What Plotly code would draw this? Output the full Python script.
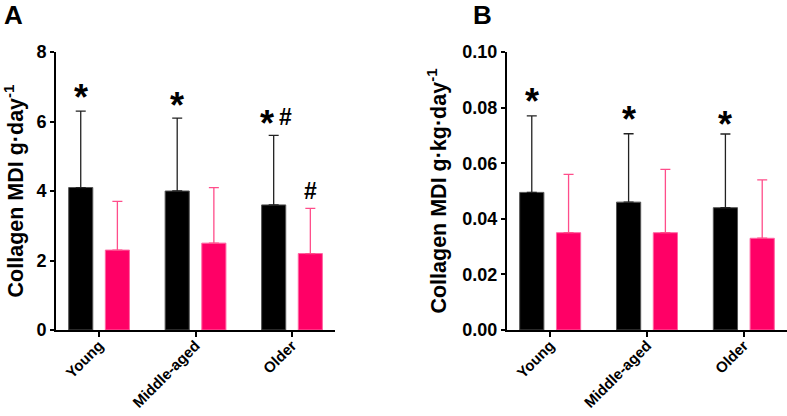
import plotly.graph_objects as go

categories = ["Young", "Middle-aged", "Older"]

# Panel A: Collagen MDI g·day^-1
a_black = [4.1, 4.0, 3.6]
a_black_top = [6.3, 6.1, 5.6]
a_pink = [2.3, 2.5, 2.2]
a_pink_top = [3.7, 4.1, 3.5]

# Panel B: Collagen MDI g·kg·day^-1
b_black = [0.0495, 0.046, 0.044]
b_black_top = [0.077, 0.0706, 0.0705]
b_pink = [0.035, 0.035, 0.033]
b_pink_top = [0.056, 0.0578, 0.054]

# significance markers
a_mark_text = ["*", "*", "*", "#", "#"]
a_mark_cat = [0, 1, 2, 2, 2]
a_mark_group = ["black", "black", "black", "black", "pink"]
a_mark_y = [6.88, 6.65, 6.13, 6.13, 4.0]
b_mark_text = ["*", "*", "*"]
b_mark_cat = [0, 1, 2]
b_mark_group = ["black", "black", "black"]
b_mark_y = [0.0846, 0.0782, 0.0764]

BLACK = "#000000"
PINK = "#FF0066"
FONT = "Arial, Liberation Sans, sans-serif"

BAR_W = 0.25
OFF_BLACK = -0.315
OFF_PINK = 0.065
CENTER = {"black": OFF_BLACK + BAR_W / 2, "pink": OFF_PINK + BAR_W / 2}

fig = go.Figure()


def add_pair(black, black_top, pink, pink_top, xa, ya):
    fig.add_trace(go.Bar(
        x=categories, y=black, xaxis=xa, yaxis=ya,
        width=BAR_W, offset=OFF_BLACK,
        marker=dict(color=BLACK, line=dict(color="#555555", width=1)),
        error_y=dict(type="data", symmetric=False,
                     array=[t - v for t, v in zip(black_top, black)],
                     arrayminus=[0] * len(black),
                     color="#222222", thickness=1.3, width=5),
        showlegend=False))
    fig.add_trace(go.Bar(
        x=categories, y=pink, xaxis=xa, yaxis=ya,
        width=BAR_W, offset=OFF_PINK,
        marker=dict(color=PINK, line=dict(color="#ff66a3", width=1)),
        error_y=dict(type="data", symmetric=False,
                     array=[t - v for t, v in zip(pink_top, pink)],
                     arrayminus=[0] * len(pink),
                     color="#ff4d8a", thickness=1.3, width=5),
        showlegend=False))


add_pair(a_black, a_black_top, a_pink, a_pink_top, "x", "y")
add_pair(b_black, b_black_top, b_pink, b_pink_top, "x2", "y2")

annotations = []


def add_marks(texts, cats, groups, ys, xref, yref):
    for t, c, g, yv in zip(texts, cats, groups, ys):
        key = (c, g)
        pair = sum(1 for cc, gg in zip(cats, groups) if (cc, gg) == key) > 1
        if t == "*":
            size, ysh = 36, -7
            xsh = -7 if pair else 0
        else:
            size, ysh = 23, 0
            xsh = 12 if pair else 0
        annotations.append(dict(x=c + CENTER[g], y=yv, xref=xref, yref=yref,
                                text="<b>%s</b>" % t, showarrow=False,
                                yanchor="middle", xanchor="center",
                                xshift=xsh, yshift=ysh,
                                font=dict(size=size, color="black", family=FONT)))


add_marks(a_mark_text, a_mark_cat, a_mark_group, a_mark_y, "x", "y")
add_marks(b_mark_text, b_mark_cat, b_mark_group, b_mark_y, "x2", "y2")

annotations.append(dict(x=0.003, y=1.0, xref="paper", yref="paper", text="<b>A</b>",
                        showarrow=False, xanchor="left", yanchor="top", yshift=2,
                        font=dict(size=26, color="black", family=FONT)))
annotations.append(dict(x=0.598, y=1.0, xref="paper", yref="paper", text="<b>B</b>",
                        showarrow=False, xanchor="left", yanchor="top", yshift=2,
                        font=dict(size=26, color="black", family=FONT)))

xcommon = dict(type="category", range=[-0.446, 2.446], showline=True, linecolor="black",
               linewidth=2, ticks="outside", ticklen=5, tickwidth=2, tickcolor="black",
               tickangle=-45, showgrid=False, zeroline=False, automargin=False,
               ticklabelstandoff=-6,
               tickfont=dict(size=15, color="black", family=FONT))
ycommon = dict(showline=True, linecolor="black", linewidth=2, ticks="outside",
               ticklen=4, tickwidth=2, tickcolor="black", showgrid=False, zeroline=False,
               automargin=False,
               tickfont=dict(size=18, color="black", family=FONT))

fig.update_layout(
    width=787, height=416,
    margin=dict(l=0, r=0, t=0, b=0),
    paper_bgcolor="white", plot_bgcolor="white",
    font=dict(family=FONT, color="black"),
    xaxis=dict(domain=[0.0712, 0.4257], anchor="y",
               tickvals=categories, ticktext=["<b>%s</b>" % c for c in categories],
               **xcommon),
    xaxis2=dict(domain=[0.6442, 1.0], anchor="y2",
                tickvals=categories, ticktext=["<b>%s</b>" % c for c in categories],
                **xcommon),
    yaxis=dict(domain=[0.2067, 0.875], anchor="x", range=[0, 8],
               tickvals=[0, 2, 4, 6, 8], ticktext=["<b>%d</b>" % v for v in [0, 2, 4, 6, 8]],
               title=dict(text="<b>Collagen MDI g·day<sup>-1</sup></b>", standoff=9,
                          font=dict(size=21.5, color="black", family=FONT)),
               **ycommon),
    yaxis2=dict(domain=[0.2067, 0.875], anchor="x2", range=[0, 0.1],
                tickvals=[0, 0.02, 0.04, 0.06, 0.08, 0.10],
                ticktext=["<b>%.2f</b>" % v for v in [0, 0.02, 0.04, 0.06, 0.08, 0.10]],
                title=dict(text="<b>Collagen MDI g·kg·day<sup>-1</sup></b>", standoff=10,
                           font=dict(size=21.5, color="black", family=FONT)),
                **ycommon),
    annotations=annotations,
)

fig.write_html("out.html")
